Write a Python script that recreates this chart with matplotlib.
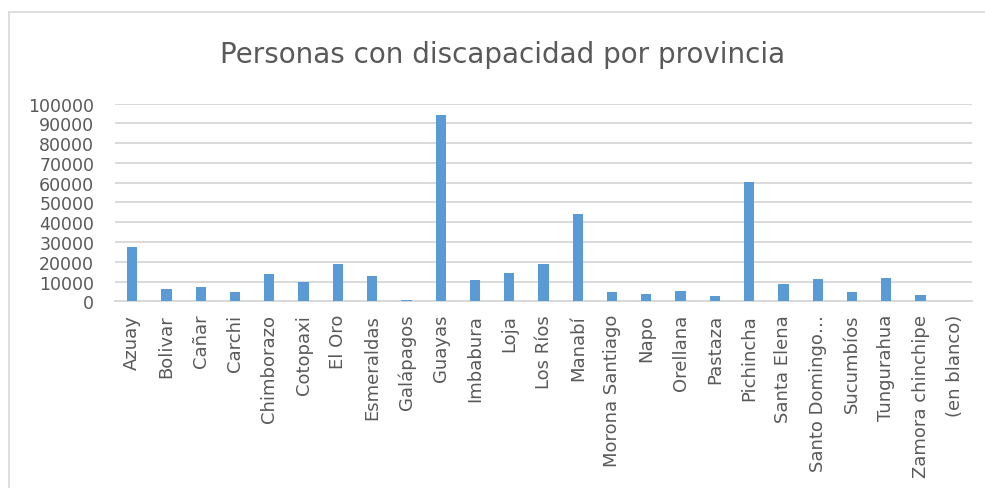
import matplotlib
matplotlib.use("Agg")
import matplotlib.pyplot as plt
from matplotlib.lines import Line2D

provincias = ['Azuay', 'Bolivar', 'Cañar', 'Carchi', 'Chimborazo', 'Cotopaxi',
              'El Oro', 'Esmeraldas', 'Galápagos', 'Guayas', 'Imbabura', 'Loja',
              'Los Ríos', 'Manabí', 'Morona Santiago', 'Napo', 'Orellana',
              'Pastaza', 'Pichincha', 'Santa Elena', 'Santo Domingo…',
              'Sucumbíos', 'Tungurahua', 'Zamora chinchipe', '(en blanco)']
personas = [27700, 6100, 7250, 4900, 13650, 9950,
            18700, 12800, 500, 94300, 10950, 14150,
            19050, 44200, 4900, 3550, 5200,
            2850, 60200, 8750, 11300,
            4900, 11800, 3400, 0]
yticks = list(range(0, 100001, 10000))

plt.rcParams['font.family'] = ['DejaVu Sans']
gray = '#595959'
gridc = '#d9d9d9'

fig = plt.figure(figsize=(9.85, 4.89), dpi=100)
ax = fig.add_axes([0.1168, 0.3818, 0.87, 0.4041])

x = range(len(provincias))
ax.bar(x, personas, width=0.3, color='#5b9bd5', zorder=3)

ax.set_xlim(-0.5, len(provincias) - 0.5)
ax.set_ylim(0, 100000)
ax.set_yticks(yticks)
ax.set_yticklabels([str(v) for v in yticks])
ax.set_xticks(list(x))
ax.set_xticklabels(provincias, rotation=90, va='top', ha='center')

ax.grid(axis='y', color=gridc, linewidth=1.4, zorder=0)
for s in ['top', 'right', 'left']:
    ax.spines[s].set_visible(False)
ax.spines['bottom'].set_color(gridc)
ax.spines['bottom'].set_linewidth(1.4)
ax.tick_params(axis='both', length=0, colors=gray)
ax.tick_params(axis='y', pad=15, labelsize=12.5)
ax.tick_params(axis='x', pad=9, labelsize=13)

fig.text(0.51, 0.887, 'Personas con discapacidad por provincia',
         ha='center', va='center', fontsize=20, color=gray)

# chart frame
fig.add_artist(Line2D([8.5 / 985, 1], [1 - 12.5 / 489, 1 - 12.5 / 489],
                      color=gridc, linewidth=1.2, transform=fig.transFigure))
fig.add_artist(Line2D([8.5 / 985, 8.5 / 985], [0, 1 - 12.5 / 489],
                      color=gridc, linewidth=1.2, transform=fig.transFigure))

fig.savefig('out.png', dpi=100)
